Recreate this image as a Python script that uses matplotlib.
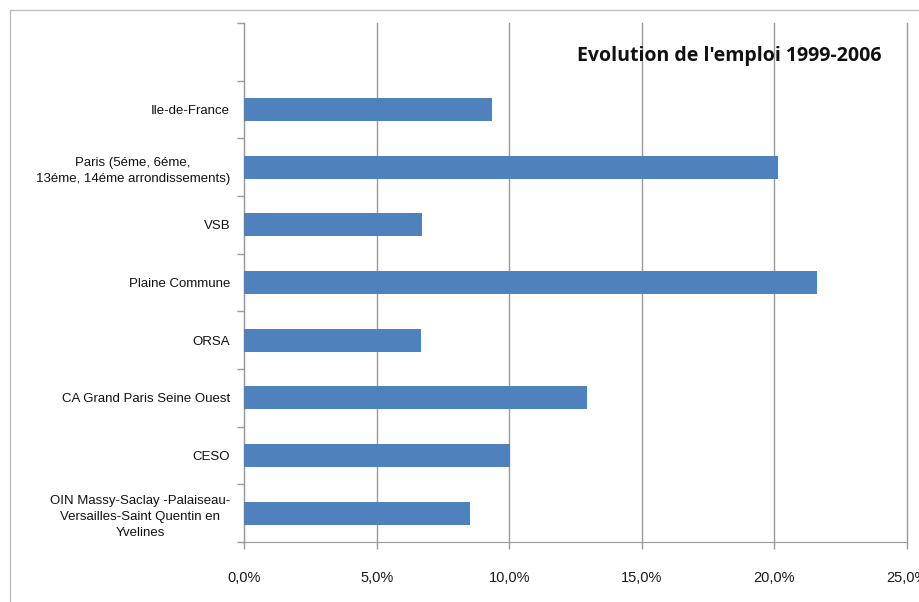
import matplotlib
matplotlib.use("Agg")
import matplotlib.pyplot as plt
import matplotlib.ticker as mticker
from matplotlib.lines import Line2D
import numpy as np

# territoires, du haut vers le bas
territoires = [
    "Ile-de-France",
    "Paris (5éme, 6éme,\n13éme, 14éme arrondissements)",
    "VSB",
    "Plaine Commune",
    "ORSA",
    "CA Grand Paris Seine Ouest",
    "CESO",
    "OIN Massy-Saclay -Palaiseau-\nVersailles-Saint Quentin en\nYvelines",
]
# évolution de l'emploi 1999-2006 (en %)
evolution = [9.36, 20.12, 6.70, 21.6, 6.66, 12.95, 10.02, 8.52]
graduations = [0, 5, 10, 15, 20, 25]

plt.rcParams["font.family"] = ["Liberation Sans", "DejaVu Sans"]

fig = plt.figure(figsize=(9.2, 6.02), dpi=100)
ax = fig.add_axes([244 / 920, 60 / 602, 663 / 920, 519 / 602])

n = len(territoires)
pos = np.arange(n)[::-1]
ax.barh(pos, evolution, height=0.4, color="#4f81bd", zorder=3)

ax.set_xlim(0, 25)
ax.set_ylim(-0.5, n + 0.5)

# graduations
ax.xaxis.set_major_locator(mticker.FixedLocator(graduations))
ax.xaxis.set_major_formatter(mticker.FuncFormatter(lambda v, p: f"{v:.1f}%".replace(".", ",")))
ax.tick_params(axis="x", length=5, width=1, color="#999999", pad=16,
               labelsize=10.5, labelcolor="#1a1a1a")

ax.yaxis.set_major_locator(mticker.FixedLocator(np.arange(-0.5, n + 1)))
ax.yaxis.set_major_formatter(mticker.NullFormatter())
ax.yaxis.set_minor_locator(mticker.FixedLocator(pos))
ax.yaxis.set_minor_formatter(mticker.FixedFormatter(territoires))
ax.tick_params(axis="y", which="major", length=5, width=1, color="#999999")
ax.tick_params(axis="y", which="minor", length=0, pad=10, labelsize=9.5,
               labelcolor="#111111")
for lab in ax.get_yticklabels(minor=True):
    lab.set_multialignment("center")
    lab.set_linespacing(1.45)

ax.grid(axis="x", color="#999999", linewidth=1, zorder=0)
for gl in ax.xaxis.get_gridlines():
    gl.set_clip_on(False)
for side in ["top", "right"]:
    ax.spines[side].set_visible(False)
for side in ["left", "bottom"]:
    ax.spines[side].set_color("#999999")

fig.text(729 / 920, 1 - 56 / 602, "Evolution de l'emploi 1999-2006",
         family="Open Sans", fontweight="bold", fontsize=14,
         ha="center", va="center", color="#111111")

# cadre du graphique
fig.add_artist(Line2D([10 / 920, 10 / 920], [0, 1 - 10 / 602],
                      transform=fig.transFigure, color="#bfbfbf", lw=1))
fig.add_artist(Line2D([10 / 920, 1], [1 - 10 / 602, 1 - 10 / 602],
                      transform=fig.transFigure, color="#bfbfbf", lw=1))

fig.savefig("out.png", dpi=100)
